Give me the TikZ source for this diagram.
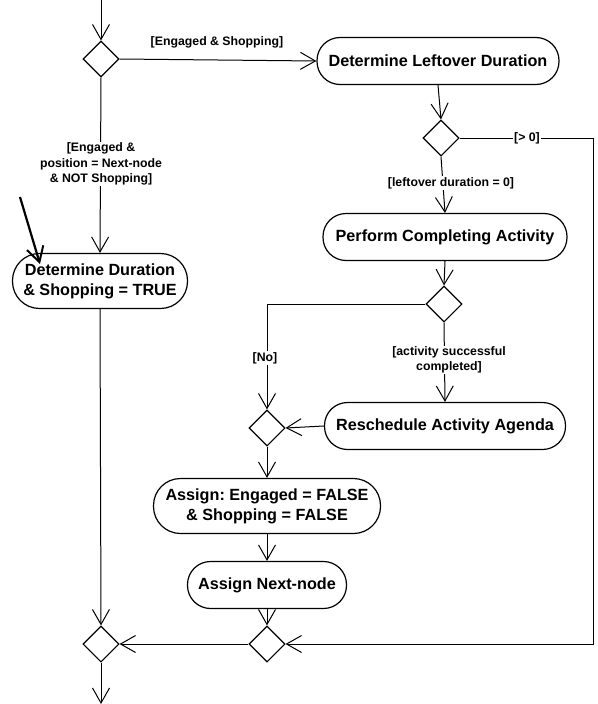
\documentclass[tikz,border=0pt]{standalone}
\usepackage{fontspec}
\setmainfont{Liberation Sans}
\usetikzlibrary{shapes.geometric,arrows.meta}
\frenchspacing
\begin{document}
\begin{tikzpicture}[x=1pt,y=-1pt,
  act/.style={draw,line width=1.2pt,rounded corners=23pt,minimum height=47pt,align=center,font=\fontsize{16.2}{20}\selectfont\bfseries,inner sep=0pt},
  act2/.style={act,rounded corners=27pt,minimum height=55pt},
  dec/.style={draw,diamond,line width=1.1pt,minimum width=36pt,minimum height=36pt,inner sep=0pt},
  flow/.style={line width=1pt,-{Straight Barb[length=15pt,width=17pt,line width=1pt]}},
  lbl/.style={fill=white,inner sep=1pt,font=\fontsize{12.3}{15.5}\selectfont\bfseries,align=center}]
\useasboundingbox (0,0) rectangle (597,704);
% nodes
\coordinate (start) at (101,0);
\coordinate (finish) at (101,704);
\node[dec] (d1) at (101,59) {};
\node[act,minimum width=242pt] (dld) at (438,61) {Determine Leftover Duration};
\node[dec] (d2) at (441,138) {};
\node[act,minimum width=244pt] (pca) at (445,237) {Perform Completing Activity};
\node[dec] (d3) at (444,304) {};
\node[act,minimum width=241pt] (raa) at (445,426) {Reschedule Activity Agenda};
\node[dec] (d4) at (267,428) {};
\node[act2,minimum width=227pt] (ae) at (267,506) {Assign:\ Engaged = FALSE\\\& Shopping = FALSE};
\node[act,minimum width=159pt] (an) at (267,585) {Assign Next-node};
\node[dec] (d5) at (267,644) {};
\node[dec] (d6) at (101,644) {};
\node[act2,minimum width=175pt] (dd) at (100,281) {Determine Duration\\\& Shopping = TRUE};
\coordinate (corner) at (593,138);
\coordinate (ptrs) at (20,197);
\coordinate (ptre) at (40,264);
% edges
\draw[flow] (start) -- (d1.north);
\draw[flow] (d1.east) -- (dld.west);
\node[lbl] (l1) at (217,42) {[Engaged \& Shopping]};
\draw[flow] (dld.south) -- (d2.north);
\draw[flow] (d2.east) -- (corner) |- (d5.east);
\node[lbl] (l2) at (527,138) {[> 0]};
\draw[flow] (d2.south) -- (pca.north);
\node[lbl] (l3) at (451,183) {[leftover duration = 0]};
\draw[flow] (pca.south) -- (d3.north);
\draw[flow] (d3.west) -| (d4.north);
\node[lbl] (l4) at (265,358) {[No]};
\draw[flow] (d3.south) -- (raa.north);
\node[lbl] (l5) at (449,360) {[activity successful\\completed]};
\draw[flow] (raa.west) -- (d4.east);
\draw[flow] (d4.south) -- (ae.north);
\draw[flow] (ae.south) -- (an.north);
\draw[flow] (an.south) -- (d5.north);
\draw[flow] (d5.west) -- (d6.east);
\draw[flow] (d1.south) -- (dd.north);
\node[lbl] (l6) at (101,164) {[Engaged \&\\position = Next-node\\\& NOT Shopping]};
\draw[flow] (dd.south) -- (d6.north);
\draw[flow] (d6.south) -- (finish);
\draw[line width=2.2pt,-{Straight Barb[length=15pt,width=17pt,line width=2pt]}] (ptrs) -- (ptre);
\end{tikzpicture}
\end{document}
